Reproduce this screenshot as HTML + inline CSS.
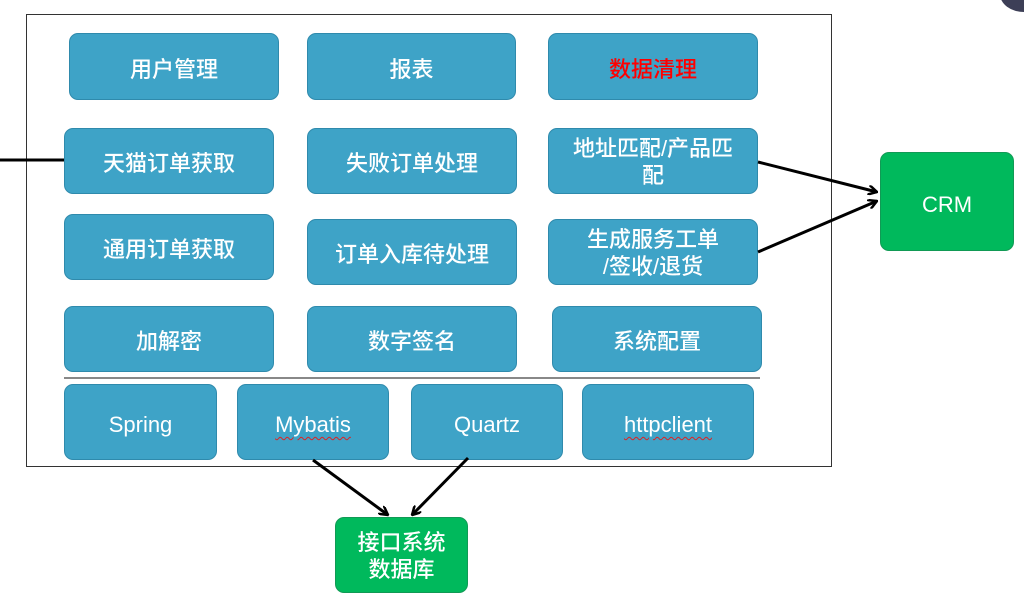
<!DOCTYPE html>
<html><head><meta charset="utf-8"><style>
body{margin:0;width:1024px;height:604px;background:#fff;position:relative;overflow:hidden;font-family:"Liberation Sans","Noto Sans CJK SC",sans-serif}
.b{position:absolute;background:#3ea3c7;border:1px solid #2f8aac;border-radius:9px;color:#fff;font-size:22px;font-weight:500;display:flex;align-items:center;justify-content:center;text-align:center;line-height:27px;box-sizing:border-box;padding-top:5px}
.g{background:#00b95c;border-color:#119a55}
.sq{text-decoration:underline wavy #e02020;text-decoration-thickness:1px;text-underline-offset:4px}
</style></head><body>
<div style="position:absolute;left:1000px;top:-24px;width:48px;height:36px;border-radius:50%;background:#3d3f57"></div>
<div style="position:absolute;left:26px;top:14px;width:806px;height:453px;border:1.5px solid #333;box-sizing:border-box"></div>
<div style="position:absolute;left:64px;top:377px;width:696px;height:2px;background:#888"></div>
<div class="b" style="left:69px;top:33px;width:210px;height:67px">用户管理</div>
<div class="b" style="left:307px;top:33px;width:209px;height:67px">报表</div>
<div class="b" style="left:548px;top:33px;width:210px;height:67px;color:#f00">数据清理</div>
<div class="b" style="left:64px;top:128px;width:210px;height:66px">天猫订单获取</div>
<div class="b" style="left:307px;top:128px;width:210px;height:66px">失败订单处理</div>
<div class="b" style="left:548px;top:128px;width:210px;height:66px;padding-top:2px">地址匹配/产品匹<br>配</div>
<div class="b" style="left:64px;top:214px;width:210px;height:66px">通用订单获取</div>
<div class="b" style="left:307px;top:219px;width:210px;height:66px">订单入库待处理</div>
<div class="b" style="left:548px;top:219px;width:210px;height:66px;padding-top:2px">生成服务工单<br>/签收/退货</div>
<div class="b" style="left:64px;top:306px;width:210px;height:66px">加解密</div>
<div class="b" style="left:307px;top:306px;width:210px;height:66px">数字签名</div>
<div class="b" style="left:552px;top:306px;width:210px;height:66px">系统配置</div>
<div class="b" style="left:64px;top:384px;width:153px;height:76px">Spring</div>
<div class="b" style="left:237px;top:384px;width:152px;height:76px"><span class="sq">Mybatis</span></div>
<div class="b" style="left:411px;top:384px;width:152px;height:76px">Quartz</div>
<div class="b" style="left:582px;top:384px;width:172px;height:76px"><span class="sq">httpclient</span></div>
<div class="b g" style="left:880px;top:152px;width:134px;height:99px">CRM</div>
<div class="b g" style="left:335px;top:517px;width:133px;height:76px;padding-top:2px">接口系统<br>数据库</div>
<svg style="position:absolute;left:0;top:0" width="1024" height="604">
<defs><marker id="a" markerWidth="10" markerHeight="10" refX="9" refY="5" orient="auto" markerUnits="userSpaceOnUse"><path d="M0,0 L9,5 L0,10" fill="none" stroke="#000" stroke-width="2.5"/></marker></defs>
<g stroke="#000" stroke-width="3" fill="none">
<line x1="0" y1="160" x2="64" y2="160"/>
<line x1="758" y1="162" x2="877" y2="192" marker-end="url(#a)"/>
<line x1="758" y1="252" x2="877" y2="201" marker-end="url(#a)"/>
<line x1="313" y1="460" x2="388" y2="515" marker-end="url(#a)"/>
<line x1="468" y1="458" x2="412" y2="515" marker-end="url(#a)"/>
</g></svg>
</body></html>
